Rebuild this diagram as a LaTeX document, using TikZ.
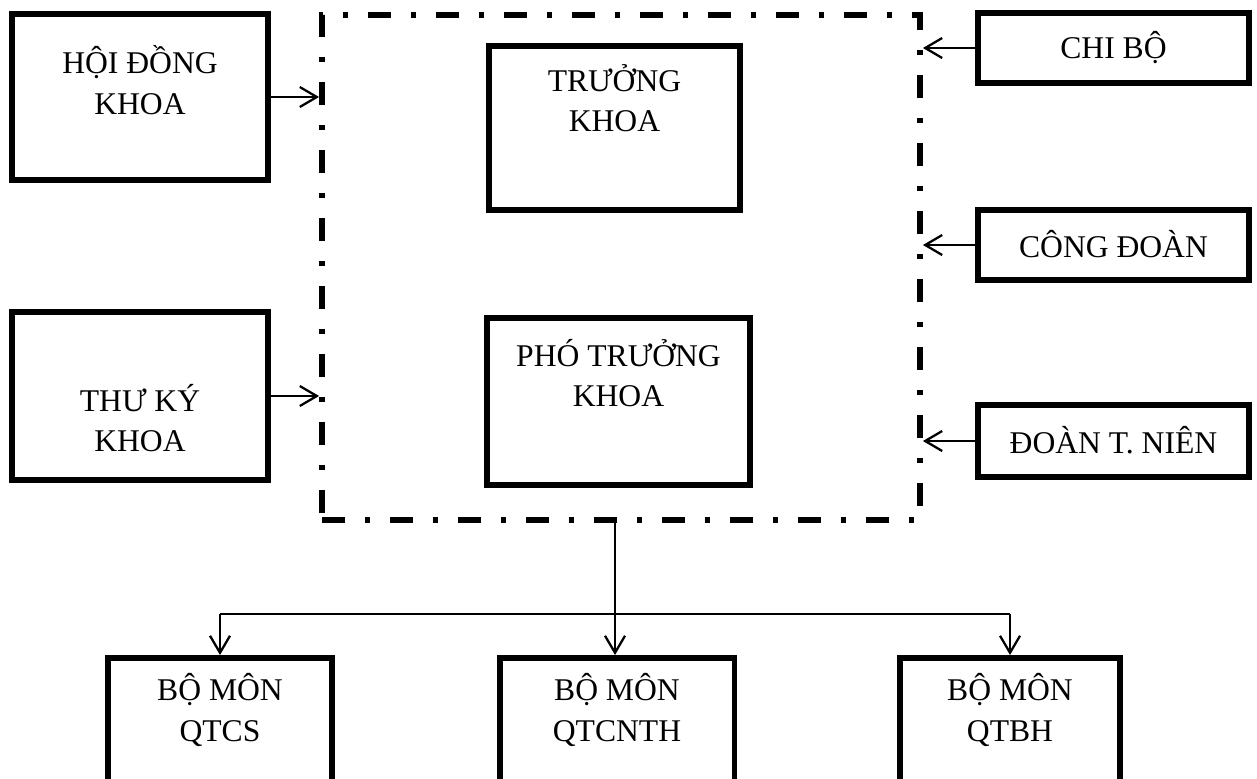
\documentclass[tikz,border=0pt]{standalone}
\usepackage{fontspec}
\setmainfont{Liberation Serif}
\usetikzlibrary{positioning,arrows.meta}
\tikzset{
  box/.style={rectangle,draw,line width=3.4pt,inner sep=0pt},
  frame/.style={rectangle,draw,line width=3.4pt,inner sep=0pt,
                dash pattern=on 0.46cm off 0.4cm on 0.1cm off 0.4cm},
  txt/.style={align=center,inner sep=0pt,font=\fontsize{18}{23}\selectfont},
  edge/.style={-{Straight Barb[length=3.4mm,width=4mm]},line width=1.3pt},
  line/.style={line width=1.3pt},
}

\begin{document}
\begin{tikzpicture}[x=0.02cm,y=-0.02cm]
\useasboundingbox (0,0) rectangle (1257,778);

% Dash-dot frame (middle)
\node[frame,minimum width=11.96cm,minimum height=10.1cm] (frame) at (621,267.5) {};
\node[box,minimum width=5.02cm,minimum height=3.28cm] (tk) at (614.5,128) {};
\node[txt] (tkt) at (614.5,98) {TRƯỞNG\\KHOA};
\node[box,minimum width=5.26cm,minimum height=3.34cm] (ptk) at (618.5,401.5) {};
\node[txt] (ptkt) at (618.5,373) {PHÓ TRƯỞNG\\KHOA};

% Left boxes
\node[box,minimum width=5.12cm,minimum height=3.32cm] (hdk) at (140,97) {};
\node[txt] (hdkt) at (140,80) {HỘI ĐỒNG\\KHOA};
\node[box,minimum width=5.12cm,minimum height=3.36cm] (tkk) at (140,396) {};
\node[txt] (tkkt) at (140,418) {THƯ KÝ\\KHOA};

% Right boxes
\node[box,minimum width=5.42cm,minimum height=1.4cm] (chibo) at (1113.5,48) {};
\node[txt] (chibot) at (1113.5,48) {CHI BỘ};
\node[box,minimum width=5.42cm,minimum height=1.4cm] (congdoan) at (1113.5,245) {};
\node[txt] (congdoant) at (1113.5,244) {CÔNG ĐOÀN};
\node[box,minimum width=5.42cm,minimum height=1.44cm] (doantn) at (1113.5,441) {};
\node[txt] (doantnt) at (1113.5,440) {ĐOÀN T. NIÊN};

% Bo mon (bottom)
\node[box,minimum width=4.48cm,minimum height=2.84cm] (bm1) at (220,729) {};
\node[txt] (bm1t) at (220,710) {BỘ MÔN\\QTCS};
\node[box,minimum width=4.7cm,minimum height=2.84cm] (bm2) at (617,729) {};
\node[txt] (bm2t) at (617,710) {BỘ MÔN\\QTCNTH};
\node[box,minimum width=4.4cm,minimum height=2.84cm] (bm3) at (1010,729) {};
\node[txt] (bm3t) at (1010,710) {BỘ MÔN\\QTBH};

\coordinate (bus) at (615,614);

% Wiring
\draw[edge] (hdk.east) -- (hdk.east -| frame.west);
\draw[edge] (tkk.east) -- (tkk.east -| frame.west);
\foreach \x in {chibo,congdoan,doantn} \draw[edge] (\x.west) -- (\x.west -| frame.east);

\draw[line] (frame.south -| bus) -- (bus);
\draw[line] (bm1.north |- bus) -- (bm3.north |- bus);
\draw[edge] (bus) -- (bus |- bm2.north);
\foreach \x in {bm1,bm3} \draw[edge] (\x.north |- bus) -- (\x.north);

\end{tikzpicture}
\end{document}
